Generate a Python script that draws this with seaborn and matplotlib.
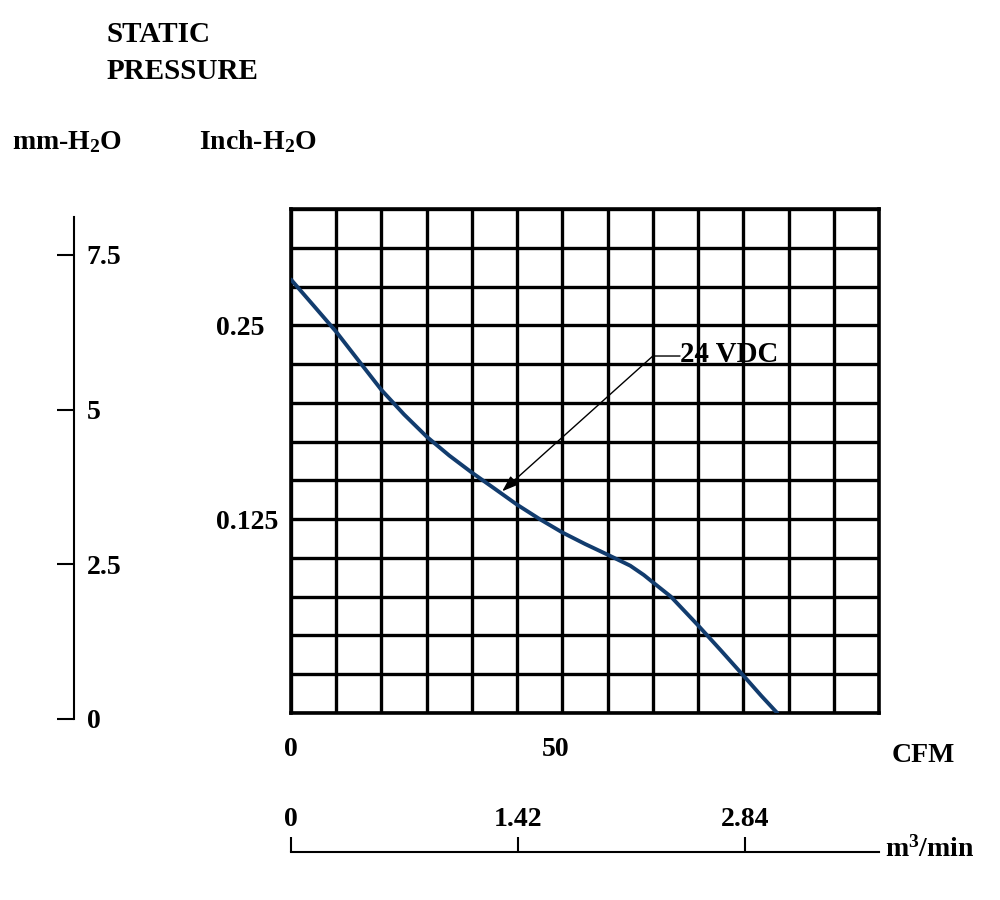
import numpy as np
import pandas as pd
import matplotlib
matplotlib.use("Agg")
import matplotlib.pyplot as plt
import matplotlib.transforms as mtransforms
import seaborn as sns

# ---------------- data ----------------
cfm = [0, 5, 10, 15, 20, 25, 30, 35, 40, 45, 50, 55, 60, 65, 70,
       75, 78, 80, 84, 90, 95, 100, 104, 107.5]
inch_h2o = [0.2795, 0.2627, 0.2458, 0.2270, 0.2083, 0.1925, 0.1782, 0.1660,
            0.1550, 0.1447, 0.1343, 0.1250, 0.1164, 0.1090, 0.1021,
            0.0950, 0.0890, 0.0843, 0.0750, 0.0565, 0.0405, 0.0242, 0.0110,
            0.0]

cfm_ticks = [0, 50]
cfm_tick_labels = ["0", "50"]
inch_ticks = [0.125, 0.25]
inch_tick_labels = ["0.125", "0.25"]
mm_ticks = [0, 2.5, 5, 7.5]
mm_tick_labels = ["0", "2.5", "5", "7.5"]
m3_ticks = [0, 1.42, 2.84]
m3_tick_labels = ["0", "1.42", "2.84"]

CFM_MAX = 130
INCH_MAX = 0.325
MM_MAX = 8.11
M3_MAX = 3.68
CFM_STEP = 10
INCH_STEP = 0.025

series_label = "24 VDC"
label_pos = (86.0, 0.2263)
elbow_pos = (80.0, 0.2302)
arrow_tip = (46.7, 0.1430)

# ---------------- style ----------------
sns.set_theme(style="white")
plt.rcParams["font.family"] = ["Liberation Serif", "DejaVu Serif"]
plt.rcParams["font.weight"] = "bold"
plt.rcParams["mathtext.default"] = "regular"

FS = 20
FS_TITLE = 21
CURVE = "#123c6e"
W, H = 1000, 900


def fr(x0, y0, x1, y1):
    return [x0 / W, 1 - y1 / H, (x1 - x0) / W, (y1 - y0) / H]


fig = plt.figure(figsize=(10, 9), dpi=100)
fig.patch.set_facecolor("white")

# ---------------- main chart ----------------
ax = fig.add_axes(fr(291, 209, 879, 713))
df = pd.DataFrame({"CFM": cfm, "inch": inch_h2o})
sns.lineplot(data=df, x="CFM", y="inch", ax=ax, color=CURVE, lw=2.8,
             zorder=5, sort=False, solid_joinstyle="round",
             solid_capstyle="round")
ax.set_xlim(0, CFM_MAX)
ax.set_ylim(0, INCH_MAX)
ax.set_xticks(np.arange(0, CFM_MAX + 1, CFM_STEP), minor=True)
ax.set_yticks(np.arange(0, INCH_MAX + 1e-6, INCH_STEP), minor=True)
ax.set_xticks(cfm_ticks)
ax.set_xticklabels(cfm_tick_labels)
ax.set_yticks(inch_ticks)
ax.set_yticklabels(inch_tick_labels)
ax.grid(which="both", color="black", lw=2.4)
ax.set_axisbelow(True)
ax.tick_params(which="both", length=0)
ax.tick_params(axis="x", pad=17, labelsize=FS, colors="black")
ax.tick_params(axis="y", pad=54, labelsize=FS, colors="black")
for lbl in ax.get_yticklabels():
    lbl.set_ha("left")
xl = ax.get_xticklabels()
xl[1].set_transform(xl[1].get_transform() +
                    mtransforms.ScaledTranslation(0.38, 0, fig.dpi_scale_trans))
for s in ax.spines.values():
    s.set_visible(True)
    s.set_color("black")
    s.set_linewidth(2.6)
ax.set_xlabel("")
ax.set_ylabel("")

# annotation "24 VDC"
ax.annotate("", xy=arrow_tip, xytext=elbow_pos,
            arrowprops=dict(arrowstyle="-|>,head_length=0.7,head_width=0.25",
                            color="black", lw=1.0, shrinkA=0, shrinkB=0,
                            mutation_scale=14), zorder=6)
ax.annotate("", xy=(label_pos[0], elbow_pos[1]), xytext=elbow_pos,
            arrowprops=dict(arrowstyle="-", color="black", lw=1.0,
                            shrinkA=0, shrinkB=0), zorder=6)
ax.text(label_pos[0], label_pos[1], series_label, ha="left", va="baseline",
        fontsize=20.8, color="black", zorder=7)

# ---------------- mm-H2O axis ----------------
axm = fig.add_axes(fr(74, 217, 75, 719))
axm.patch.set_visible(False)
axm.set_xlim(0, 1)
axm.set_ylim(0, MM_MAX)
axm.set_xticks([])
axm.set_yticks(mm_ticks)
axm.set_yticklabels(mm_tick_labels)
for side in ["top", "bottom", "right"]:
    axm.spines[side].set_visible(False)
axm.spines["left"].set_color("black")
axm.spines["left"].set_linewidth(1.5)
axm.tick_params(axis="y", left=True, right=False, labelleft=False,
                labelright=True, direction="out", length=12.5, width=1.5,
                color="black", labelcolor="black", pad=-4, labelsize=FS)

# ---------------- m3/min axis ----------------
axq = fig.add_axes(fr(291, 851, 879, 852))
axq.patch.set_visible(False)
axq.set_xlim(0, M3_MAX)
axq.set_ylim(0, 1)
axq.set_yticks([])
axq.set_xticks(m3_ticks)
axq.set_xticklabels(m3_tick_labels)
for side in ["top", "left", "right"]:
    axq.spines[side].set_visible(False)
axq.spines["bottom"].set_color("black")
axq.spines["bottom"].set_linewidth(1.5)
axq.tick_params(axis="x", bottom=True, top=False, labelbottom=False,
                labeltop=True, direction="in", length=11, width=1.5,
                color="black", labelcolor="black", pad=14, labelsize=FS)

# ---------------- texts ----------------
def ftxt(x, y, s, size=FS):
    fig.text(x / W, 1 - y / H, s, ha="left", va="baseline", fontsize=size,
             color="black")

ftxt(107, 42, "STATIC", FS_TITLE)
ftxt(107, 79, "PRESSURE", FS_TITLE)
ftxt(12, 149, r"mm-H$_2$O")
ftxt(199, 149, r"Inch-H$_2$O")
ftxt(892, 762, "CFM")
ftxt(885, 857, r"m$^3$/min")

fig.savefig("out.png", dpi=100, facecolor="white")
